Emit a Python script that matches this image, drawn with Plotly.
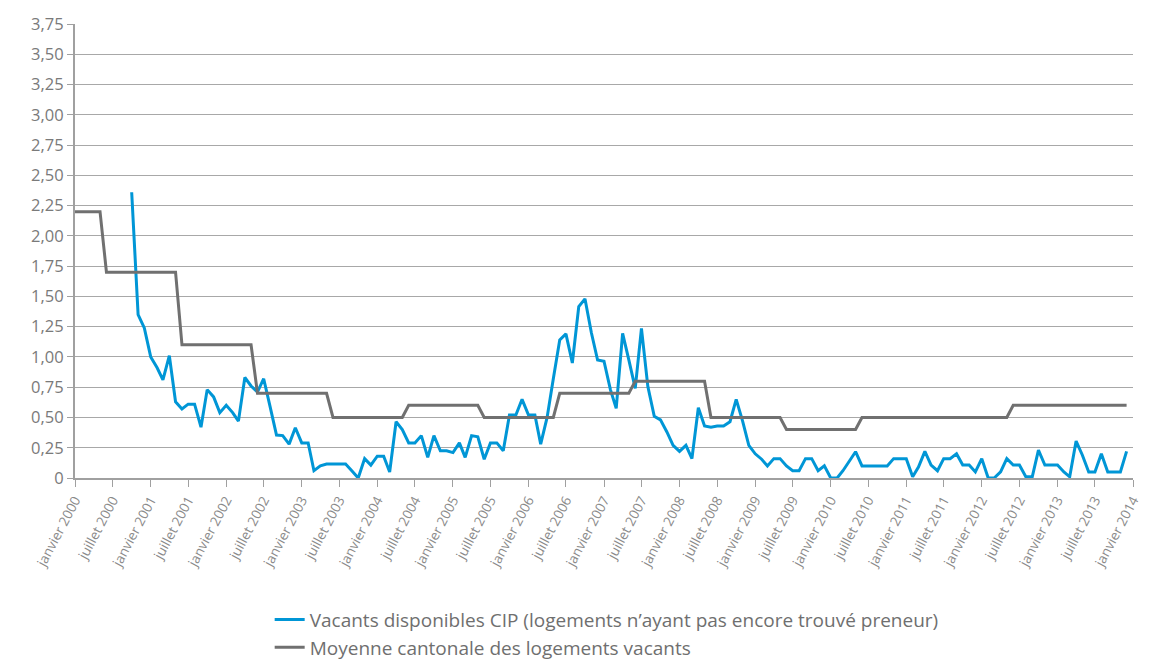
import plotly.graph_objects as go
import pandas as pd

# Monthly dates, January 2000 - December 2013
months = pd.date_range("2000-01-01", periods=168, freq="MS")

# Blue series: starts October 2000 (index 9)
cip_start = "2000-10-01"
cip_values = [
    2.36, 1.35, 1.24, 1.00, 0.91, 0.81, 1.01, 0.63, 0.57, 0.61, 0.61, 0.42,
    0.73, 0.67, 0.54, 0.60, 0.54, 0.47, 0.83, 0.76, 0.71, 0.82, 0.59, 0.355,
    0.35, 0.28, 0.415, 0.29, 0.29, 0.06, 0.10, 0.115, 0.115, 0.115, 0.115, 0.058,
    0.0, 0.16, 0.107, 0.18, 0.18, 0.05, 0.465, 0.40, 0.29, 0.29, 0.35, 0.17,
    0.35, 0.225, 0.225, 0.21, 0.29, 0.17, 0.35, 0.34, 0.155, 0.29, 0.29, 0.225,
    0.52, 0.52, 0.65, 0.52, 0.52, 0.28, 0.50, 0.82, 1.14, 1.19, 0.95, 1.415,
    1.48, 1.20, 0.975, 0.965, 0.73, 0.575, 1.195, 0.975, 0.74, 1.236, 0.755, 0.51,
    0.48, 0.38, 0.27, 0.22, 0.27, 0.16, 0.58, 0.43, 0.42, 0.43, 0.43, 0.465,
    0.65, 0.47, 0.27, 0.20, 0.155, 0.10, 0.16, 0.16, 0.10, 0.06, 0.06, 0.16,
    0.16, 0.06, 0.10, 0.0, 0.0, 0.06, 0.14, 0.217, 0.10, 0.10, 0.10, 0.10,
    0.10, 0.16, 0.16, 0.16, 0.01, 0.09, 0.22, 0.107, 0.06, 0.16, 0.16, 0.20,
    0.107, 0.107, 0.05, 0.16, 0.0, 0.0, 0.05, 0.16, 0.107, 0.107, 0.01, 0.01,
    0.23, 0.107, 0.107, 0.107, 0.05, 0.01, 0.305, 0.19, 0.05, 0.05, 0.20, 0.05,
    0.05, 0.05, 0.22,
]
cip_dates = pd.date_range(cip_start, periods=len(cip_values), freq="MS")

# Grey series: cantonal average (Jan 2000 - Dec 2013)
canton_values = (
    [2.2] * 5 + [1.7] * 12 + [1.1] * 12 + [0.7] * 12 + [0.5] * 12 + [0.6] * 12
    + [0.5] * 12 + [0.7] * 12 + [0.8] * 12 + [0.5] * 12 + [0.4] * 12
    + [0.5] * 24 + [0.6] * 19
)

# Axis ticks
x_tick_dates = pd.date_range("2000-01-01", "2014-01-01", freq="6MS")
x_tick_labels = [("janvier " if d.month == 1 else "juillet ") + str(d.year) for d in x_tick_dates]
y_tick_vals = [i * 0.25 for i in range(16)]
y_tick_labels = ["0"] + [f"{v:.2f}".replace(".", ",") for v in y_tick_vals[1:]]

series_names = [
    "Vacants disponibles CIP (logements n\u2019ayant pas encore trouv\u00e9 preneur)",
    "Moyenne cantonale des logements vacants",
]

fig = go.Figure()
fig.add_trace(go.Scatter(
    x=cip_dates, y=cip_values, mode="lines", name=series_names[0],
    line=dict(color="#0096d6", width=3),
))
fig.add_trace(go.Scatter(
    x=months, y=canton_values, mode="lines", name=series_names[1],
    line=dict(color="#707070", width=3),
))

# The page body adds an 8px offset, so the figure is 8px smaller on each axis
fig.update_layout(
    width=1141, height=654,
    margin=dict(l=67, r=16, t=16, b=184, autoexpand=False),
    paper_bgcolor="white", plot_bgcolor="white",
    font=dict(family="Open Sans, Lato, sans-serif", color="#7a7a7a"),
    showlegend=True,
    legend=dict(
        x=0.184, y=-0.27, xanchor="left", yanchor="top",
        orientation="v", font=dict(size=19, color="#6f6f6f"),
        tracegroupgap=0, itemwidth=30,
    ),
)
fig.update_xaxes(
    type="date",
    range=["2000-01-01", "2014-01-01"],
    tickvals=list(x_tick_dates), ticktext=x_tick_labels,
    tickangle=-62, tickfont=dict(size=13.5, color="#8a8a8a"),
    ticks="outside", ticklen=7, tickcolor="#a0a0a0",
    showgrid=False, showline=True, linecolor="#a0a0a0", linewidth=2,
    zeroline=False, automargin=False,
)
fig.update_yaxes(
    range=[0, 3.75],
    tickvals=y_tick_vals, ticktext=y_tick_labels,
    tickfont=dict(size=16.5, color="#7a7a7a"),
    showgrid=True, gridcolor="#a8a8a8", gridwidth=1,
    showline=True, linecolor="#a0a0a0", linewidth=2,
    ticks="outside", ticklen=6, tickcolor="#a0a0a0",
    zeroline=False, automargin=False,
)

fig.write_html("out.html")
